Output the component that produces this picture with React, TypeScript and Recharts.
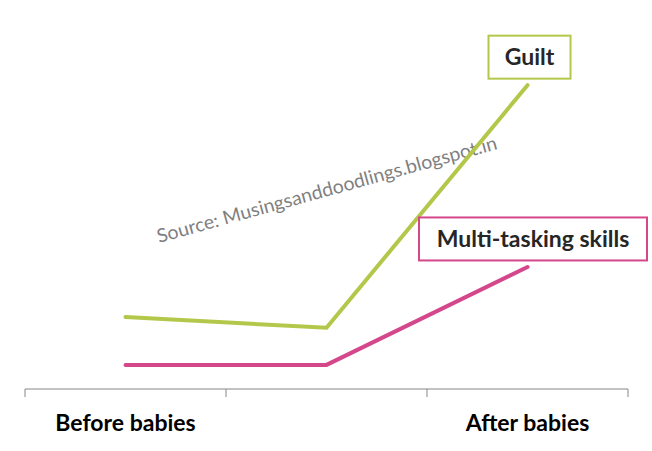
import React from 'react';
import { LineChart, Line, XAxis, YAxis, ReferenceDot, Customized } from 'recharts';

const stages = ['Before babies', '', 'After babies'];
const stageCentres = [0.5, 1.5, 2.5];
const guilt = [20, 17, 84.4];
const multiTasking = [6.7, 6.7, 33.9];
const boundaryTicks = [0, 1, 2, 3];
const watermark = 'Source: Musingsanddoodlings.blogspot.in';

const data = stages.map((stage, i) => ({ x: stageCentres[i], stage, guilt: guilt[i], multi: multiTasking[i] }));
const allTicks = [...boundaryTicks, ...stageCentres.filter((_, i) => stages[i])].sort((a, b) => a - b);

const GREEN = '#b3c84a';
const PINK = '#d5478b';
const TEXT = '#262626';
const AXIS = '#868686';
const FONT = 'Lato, "Open Sans", sans-serif';

const annotations = [
  { key: 'guilt', label: 'Guilt', color: GREEN, values: guilt, boxWidth: 82, dx: 2, dy: -28 },
  { key: 'multi', label: 'Multi-tasking skills', color: PINK, values: multiTasking, boxWidth: 228, dx: 5.5, dy: -28 },
];

const makeBoxLabel = (a: any) => (props: any) => {
  const vb = props.viewBox || {};
  const cx = vb.x + (vb.width || 0) / 2 + a.dx;
  const cy = vb.y + (vb.height || 0) / 2 + a.dy;
  const h = 43;
  return (
    <g>
      <rect x={cx - a.boxWidth / 2} y={cy - h / 2} width={a.boxWidth} height={h} fill="#fff" stroke={a.color} strokeWidth={2} />
      <text x={cx} y={cy} dy={8} textAnchor="middle" fill={TEXT} fontFamily={FONT} fontWeight={700} fontSize={23}>
        {a.label}
      </text>
    </g>
  );
};

const TICK_SIZE = 8;

const AxisTick = (props: any) => {
  const { x, y, payload } = props;
  const v = payload.value;
  if (boundaryTicks.includes(v)) {
    return <line x1={x} x2={x} y1={y - TICK_SIZE} y2={y} stroke={AXIS} strokeWidth={1} />;
  }
  const idx = stageCentres.indexOf(v);
  return (
    <text x={x} y={y} dy={34} textAnchor="middle" fill="#000" fontFamily={FONT} fontWeight={700} fontSize={23}>
      {idx >= 0 ? stages[idx] : ''}
    </text>
  );
};

const Watermark = () => (
  <text
    x={159}
    y={243}
    transform="rotate(-15.5 159 243)"
    fill="#7f7f7f"
    fontFamily={FONT}
    fontSize={19}
    textLength={352}
    lengthAdjust="spacingAndGlyphs"
  >
    {watermark}
  </text>
);

export default function App() {
  return (
    <div style={{ position: 'absolute', left: 0, top: 0, width: 652, height: 451, background: '#fff' }}>
      <LineChart width={652} height={451} data={data} margin={{ top: 29, right: 24, left: 25, bottom: 0 }}>
        <XAxis
          dataKey="x"
          type="number"
          domain={[0, 3]}
          ticks={allTicks}
          interval={0}
          height={62}
          axisLine={{ stroke: AXIS, strokeWidth: 1 }}
          tickLine={false}
          tickSize={TICK_SIZE}
          tickMargin={0}
          tick={<AxisTick />}
          allowDataOverflow
        />
        <YAxis hide domain={[0, 100]} />
        <Customized component={Watermark} />
        <Line dataKey="guilt" stroke={GREEN} strokeWidth={4} dot={false} isAnimationActive={false} strokeLinecap="round" />
        <Line dataKey="multi" stroke={PINK} strokeWidth={4} dot={false} isAnimationActive={false} strokeLinecap="round" />
        {annotations.map((a) => (
          <ReferenceDot
            key={a.key}
            x={stageCentres[2]}
            y={a.values[2]}
            r={0}
            fill="none"
            stroke="none"
            label={makeBoxLabel(a)}
          />
        ))}
      </LineChart>
    </div>
  );
}
